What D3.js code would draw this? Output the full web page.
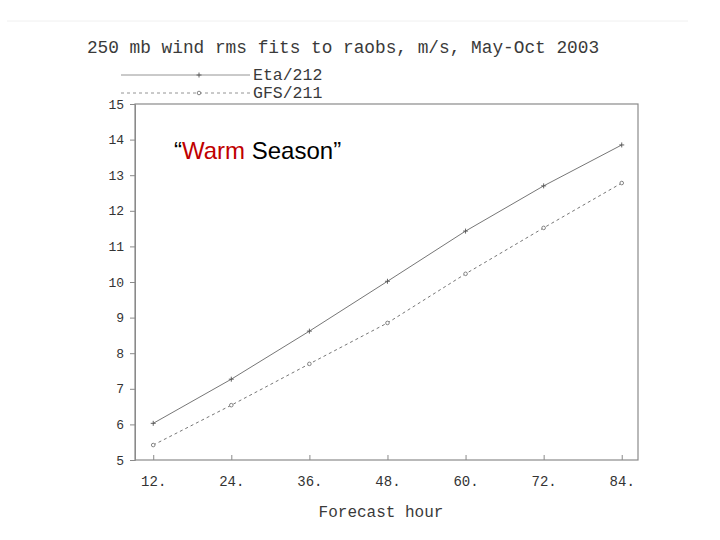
<!DOCTYPE html>
<html><head><meta charset="utf-8">
<script src="https://cdn.jsdelivr.net/npm/d3@7"></script>
<style>body{margin:0;background:#fff}svg{display:block}</style>
</head><body>
<script>
const hours = [12, 24, 36, 48, 60, 72, 84];
const etaValues = [6.03, 7.27, 8.62, 10.02, 11.43, 12.70, 13.85];
const gfsValues = [5.42, 6.54, 7.70, 8.85, 10.23, 11.52, 12.78];
const seriesNames = ["Eta/212", "GFS/211"];
const yTicks = [5, 6, 7, 8, 9, 10, 11, 12, 13, 14, 15];
const xTickLabels = ["12.", "24.", "36.", "48.", "60.", "72.", "84."];
const titleText = "250 mb wind rms fits to raobs, m/s, May-Oct 2003";

const W = 720, H = 540;
const svg = d3.select("body").append("svg").attr("width", W).attr("height", H);
const mono = "'Liberation Mono','DejaVu Sans Mono',monospace";

svg.append("line").attr("x1", 7).attr("x2", 688).attr("y1", 21).attr("y2", 21)
  .attr("stroke", "#f0f0f0").attr("stroke-width", 1);

const L = 135, R = 638, T = 104, B = 460;
const x = d3.scaleLinear().domain([9.2, 86.5]).range([L, R]);
const y = d3.scaleLinear().domain([5, 15]).range([B, T]);

// frame
svg.append("rect").attr("x", L).attr("y", T).attr("width", R - L).attr("height", B - T)
  .attr("fill", "none").attr("stroke", "#8a8a8a").attr("stroke-width", 1.2);

// y axis
const yAxis = d3.axisLeft(y).tickValues(yTicks).tickSize(5).tickPadding(6).tickFormat(d3.format("d"));
const gy = svg.append("g").attr("transform", `translate(${L},0)`).call(yAxis);
gy.select(".domain").attr("stroke", "#8a8a8a");
gy.selectAll(".tick line").attr("stroke", "#8a8a8a");
gy.selectAll(".tick text").attr("font-family", mono).attr("font-size", 13).attr("fill", "#333");

// x axis (ticks inside)
const xAxis = d3.axisBottom(x).tickValues(hours).tickSize(-5).tickPadding(16)
  .tickFormat((d, i) => xTickLabels[i]);
const gx = svg.append("g").attr("transform", `translate(0,${B})`).call(xAxis);
gx.select(".domain").remove();
gx.selectAll(".tick line").attr("stroke", "#8a8a8a");
gx.selectAll(".tick text").attr("font-family", mono).attr("font-size", 14).attr("fill", "#333");

// lines
const line = d3.line().x((d, i) => x(hours[i])).y(d => y(d));
svg.append("path").datum(etaValues).attr("d", line).attr("fill", "none")
  .attr("stroke", "#666").attr("stroke-width", 0.9);
svg.append("path").datum(gfsValues).attr("d", line).attr("fill", "none")
  .attr("stroke", "#666").attr("stroke-width", 0.9).attr("stroke-dasharray", "3,3");

// markers
svg.selectAll(".plus").data(etaValues).enter().append("path")
  .attr("transform", (d, i) => `translate(${x(hours[i])},${y(d)})`)
  .attr("d", "M-2.5,0H2.5M0,-2.5V2.5").attr("fill", "none").attr("stroke", "#555").attr("stroke-width", 0.9);
svg.selectAll(".circ").data(gfsValues).enter().append("circle")
  .attr("cx", (d, i) => x(hours[i])).attr("cy", d => y(d)).attr("r", 1.8)
  .attr("fill", "#fff").attr("stroke", "#666").attr("stroke-width", 0.8);

// title
svg.append("text").attr("x", 343).attr("y", 53).attr("text-anchor", "middle")
  .attr("font-family", mono).attr("font-size", 17.8).attr("fill", "#3a3a3a").text(titleText);

// legend
const legY = [75, 93];
legY.forEach((ly, i) => {
  svg.append("line").attr("x1", 121).attr("x2", 250).attr("y1", ly).attr("y2", ly)
    .attr("stroke", "#888").attr("stroke-width", 0.9)
    .attr("stroke-dasharray", i === 1 ? "3,3" : null);
  if (i === 0) {
    svg.append("path").attr("d", "M-2.5,0H2.5M0,-2.5V2.5").attr("transform", `translate(199,${ly})`)
      .attr("stroke", "#555").attr("fill", "none").attr("stroke-width", 0.9);
  } else {
    svg.append("circle").attr("cx", 199).attr("cy", ly).attr("r", 1.8)
      .attr("fill", "#fff").attr("stroke", "#666").attr("stroke-width", 0.8);
  }
  svg.append("text").attr("x", 253).attr("y", ly + 5).attr("font-family", mono)
    .attr("font-size", 16.5).attr("fill", "#3a3a3a").text(seriesNames[i]);
});

// x label
svg.append("text").attr("x", 381).attr("y", 517).attr("text-anchor", "middle")
  .attr("font-family", mono).attr("font-size", 16).attr("fill", "#3a3a3a").text("Forecast hour");

// annotation
const ann = svg.append("text").attr("x", 174).attr("y", 159)
  .attr("font-family", "'Liberation Sans',Arial,sans-serif").attr("font-size", 24);
ann.append("tspan").attr("fill", "#000").text("\u201C");
ann.append("tspan").attr("fill", "#c00000").text("Warm");
ann.append("tspan").attr("fill", "#000").text(" Season\u201D");
</script>
</body></html>
